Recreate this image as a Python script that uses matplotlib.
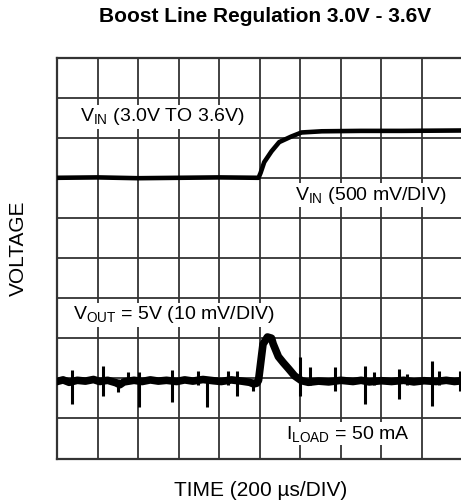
import matplotlib.pyplot as plt

plt.rcParams['font.family'] = ['Liberation Sans', 'DejaVu Sans']
plt.rcParams['mathtext.fontset'] = 'custom'
plt.rcParams['mathtext.rm'] = 'Liberation Sans'
plt.rcParams['mathtext.it'] = 'Liberation Sans'

# Screen is 10 x 10 divisions; traces given in divisions
# V_IN trace (500 mV/DIV), 3.0V sits on div 7
vin_t = [0.0, 1.0, 2.0, 3.0, 4.0, 4.97, 5.02, 5.11, 5.29, 5.48, 5.78, 6.03, 6.53, 7.5, 8.5, 10.0]
vin_v = [7.0, 7.01, 6.99, 7.0, 7.01, 7.0, 7.12, 7.39, 7.66, 7.89, 8.03, 8.13, 8.16, 8.17, 8.17, 8.18]

# V_OUT trace (10 mV/DIV) baseline and load-step transient
vout_t = [0.0, 0.15, 0.3, 0.5, 0.7, 0.9, 1.05, 1.25, 1.45, 1.55, 1.65, 1.9, 2.1, 2.3, 2.5,
          2.7, 2.95, 3.15, 3.35, 3.6, 3.85, 4.05, 4.3, 4.55, 4.75, 4.85, 4.93, 4.97,
          5.08, 5.19, 5.29, 5.33, 5.46, 5.58, 5.71, 5.86, 6.03, 6.2, 6.45, 6.7, 7.0,
          7.3, 7.5, 7.7, 8.0, 8.25, 8.55, 8.8, 9.05, 9.35, 9.6, 9.8, 10.0]
vout_v = [1.92, 1.96, 1.9, 1.95, 1.93, 1.97, 1.92, 1.95, 1.89, 1.84, 1.91, 1.95, 1.92, 1.96,
          1.93, 1.95, 1.92, 1.96, 1.93, 1.97, 1.94, 1.92, 1.96, 1.93, 1.9, 1.86, 1.88, 1.95,
          2.85, 3.03, 3.0, 2.86, 2.54, 2.39, 2.24, 2.06, 1.94, 1.9, 1.93, 1.91, 1.95,
          1.92, 1.95, 1.91, 1.94, 1.92, 1.95, 1.91, 1.94, 1.92, 1.95, 1.92, 1.94]

# switching spikes on V_OUT: position, top, bottom
spike_t = [0.38, 1.14, 1.51, 1.76, 2.01, 2.83, 3.47, 3.70, 4.22, 4.44, 4.84,
           6.00, 6.25, 6.85, 7.59, 7.82, 8.44, 8.64, 9.26, 9.43, 9.95]
spike_hi = [2.21, 2.31, 1.99, 2.16, 2.16, 2.21, 2.19, 1.99, 2.19, 2.19, 1.99,
            2.54, 2.29, 2.29, 2.31, 2.16, 2.24, 2.11, 2.44, 2.19, 2.19]
spike_lo = [1.37, 1.57, 1.67, 1.89, 1.29, 1.42, 1.84, 1.29, 1.84, 1.57, 1.69,
            1.57, 1.84, 1.69, 1.37, 1.84, 1.49, 1.84, 1.32, 1.84, 1.69]

W, H = 461, 503
fig = plt.figure(figsize=(W / 100, H / 100), dpi=100)
ax = fig.add_axes([57 / W, (H - 458.5) / H, 405.5 / W, 401 / H])

ax.set_xlim(0, 10)
ax.set_ylim(0, 10)
ax.set_xticks(range(11))
ax.set_yticks(range(11))
ax.tick_params(length=0, labelbottom=False, labelleft=False)
ax.set_axisbelow(True)
ax.grid(True, color='#333333', linewidth=1.3)
for s in ax.spines.values():
    s.set_color('#333333')
    s.set_linewidth(1.6)

ax.plot(vin_t, vin_v, color='black', linewidth=3.3, solid_capstyle='butt', zorder=4)
ax.plot(vout_t, vout_v, color='black', linewidth=5.5, solid_joinstyle='round', zorder=4)
ax.vlines(spike_t, spike_lo, spike_hi, colors='black', linewidth=2.2, zorder=4)

box = dict(facecolor='white', edgecolor='none', pad=1.0)
lab = dict(fontsize=14, ha='left', va='center', bbox=box, zorder=3)
ax.text(0.57, 8.52, r'V$_{\mathrm{IN}}$ (3.0V TO 3.6V)', **lab)
ax.text(5.88, 6.57, r'V$_{\mathrm{IN}}$ (500 mV/DIV)', **lab)
ax.text(0.40, 3.58, r'V$_{\mathrm{OUT}}$ = 5V (10 mV/DIV)', **lab)
ax.text(5.64, 0.62, r'I$_{\mathrm{LOAD}}$ = 50 mA', **lab)

fig.text(265 / W, 1 - 17 / H, 'Boost Line Regulation 3.0V - 3.6V', fontsize=15,
         fontweight='bold', ha='center', va='center')
fig.text(261 / W, 1 - 490 / H, 'TIME (200 µs/DIV)', fontsize=15, ha='center', va='center')
fig.text(18 / W, 1 - 248 / H, 'VOLTAGE', fontsize=15, rotation=90, ha='center', va='center')

fig.savefig('out.png', dpi=100)
